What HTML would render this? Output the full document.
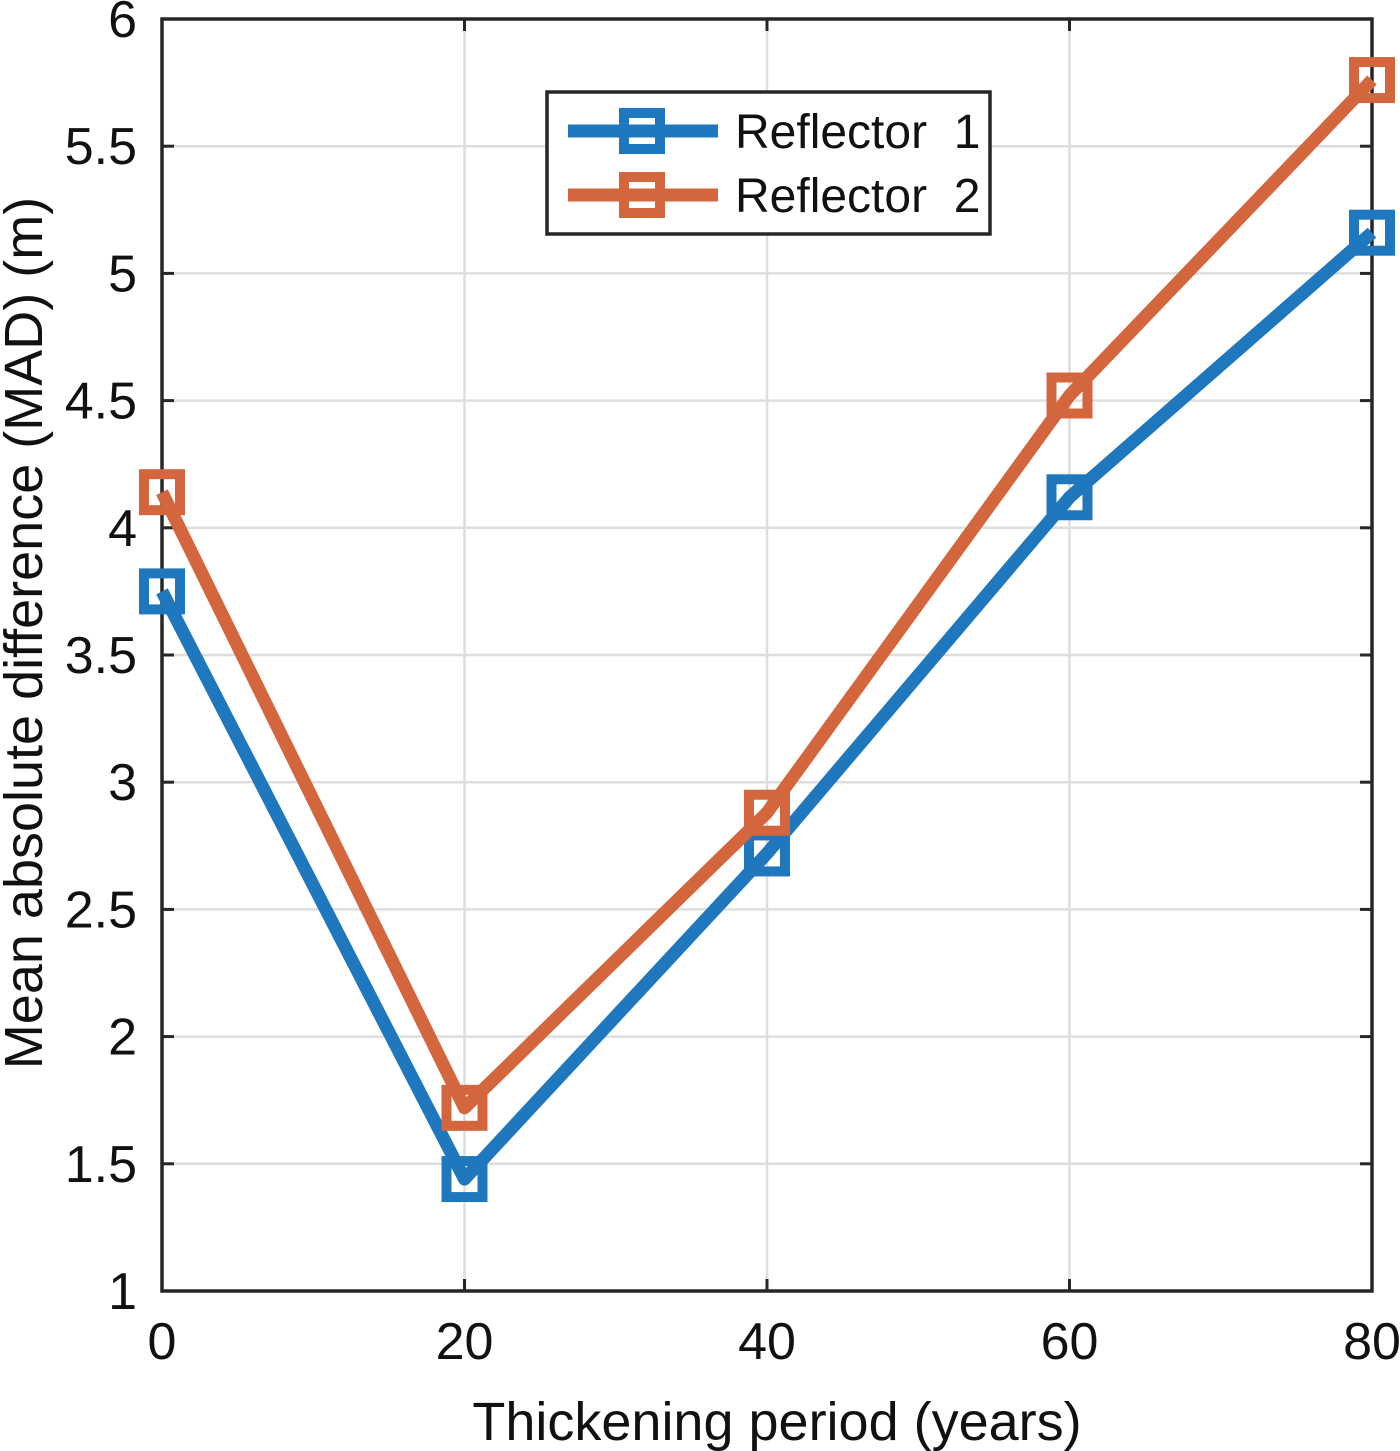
<!DOCTYPE html>
<html><head><meta charset="utf-8"><style>
html,body{margin:0;padding:0;background:#fff;}
svg{display:block;font-family:"Liberation Sans",sans-serif;}
</style></head><body>
<svg id="chart" width="1400" height="1451" viewBox="0 0 1400 1451"></svg>
<script>
const xValues=[0,20,40,60,80];
const reflector1=[3.75,1.44,2.72,4.12,5.16];
const reflector2=[4.14,1.72,2.88,4.52,5.76];
const xTicks=[0,20,40,60,80];
const yTicks=[1,1.5,2,2.5,3,3.5,4,4.5,5,5.5,6];
const yTickLabels=["1","1.5","2","2.5","3","3.5","4","4.5","5","5.5","6"];
const seriesNames=["Reflector  1","Reflector  2"];

const L=162,R=1372,T=19,B=1291;
const sx=v=>L+(v-0)/(80-0)*(R-L);
const sy=v=>B-(v-1)/(6-1)*(B-T);
const NS="http://www.w3.org/2000/svg";
const svg=document.getElementById('chart');
function mk(tag,attrs,parent){const e=document.createElementNS(NS,tag);for(const k in attrs)e.setAttribute(k,attrs[k]);(parent||svg).appendChild(e);return e;}

const grid=mk('g',{});


xTicks.forEach(v=>{const l=mk('line',{x1:sx(v),x2:sx(v),y1:T,y2:B,stroke:'#dedede','stroke-width':2.5},grid);

});
yTicks.forEach(v=>{const l=mk('line',{x1:L,x2:R,y1:sy(v),y2:sy(v),stroke:'#dedede','stroke-width':2.5},grid);

});

const box=mk('rect',{x:L,y:T,width:R-L,height:B-T,fill:'none',stroke:'#262626','stroke-width':3.5});


xTicks.forEach(v=>{mk('line',{x1:sx(v),x2:sx(v),y1:B,y2:B-12,stroke:'#262626','stroke-width':3});mk('line',{x1:sx(v),x2:sx(v),y1:T,y2:T+12,stroke:'#262626','stroke-width':3});
const t=mk('text',{x:sx(v),y:B+68,'text-anchor':'middle','font-size':52,fill:'#111'});t.textContent=String(v);

});
yTicks.forEach((v,i)=>{mk('line',{x1:L,x2:L+12,y1:sy(v),y2:sy(v),stroke:'#262626','stroke-width':3});mk('line',{x1:R,x2:R-12,y1:sy(v),y2:sy(v),stroke:'#262626','stroke-width':3});
const t=mk('text',{x:L-25,y:sy(v)+18,'text-anchor':'end','font-size':52,fill:'#111'});t.textContent=yTickLabels[i];

});

const xt=mk('text',{x:(L+R)/2+10,y:1440,'text-anchor':'middle','font-size':54,fill:'#111'});xt.textContent='Thickening period (years)';


const yt=mk('text',{x:0,y:0,'text-anchor':'middle','font-size':54,fill:'#111',transform:`translate(42,${(T+B)/2-22}) rotate(-90)`});yt.textContent='Mean absolute difference (MAD) (m)';



function series(vals,color,name){
  const g=mk('g',{});
  
  
  const pts=vals.map((v,i)=>sx(xValues[i])+','+sy(v)).join(' ');
  const pl=mk('polyline',{points:pts,fill:'none',stroke:color,'stroke-width':13,'stroke-linejoin':'round'},g);
  
  
  vals.forEach((v,i)=>{const r=mk('rect',{x:sx(xValues[i])-18,y:sy(v)-18,width:36,height:36,fill:'none',stroke:color,'stroke-width':10},g);
  
  });
}
series(reflector1,'#1f77bd','reflector-1');
series(reflector2,'#d4663e','reflector-2');

const lg=mk('g',{});


mk('rect',{x:547,y:92,width:443,height:142,fill:'#fff',stroke:'#262626','stroke-width':3.5},lg);
[['#1f77bd',131],['#d4663e',195]].forEach((c,i)=>{
  const e=mk('g',{},lg);
  
  
  mk('line',{x1:568,x2:718,y1:c[1],y2:c[1],stroke:c[0],'stroke-width':13},e);
  mk('rect',{x:624,y:c[1]-18,width:36,height:36,fill:'none',stroke:c[0],'stroke-width':10},e);
  const t=mk('text',{x:735,y:c[1]+17,'font-size':48,fill:'#111'},e);t.textContent=seriesNames[i];
  t.style.whiteSpace='pre';
});
</script>
</body></html>
